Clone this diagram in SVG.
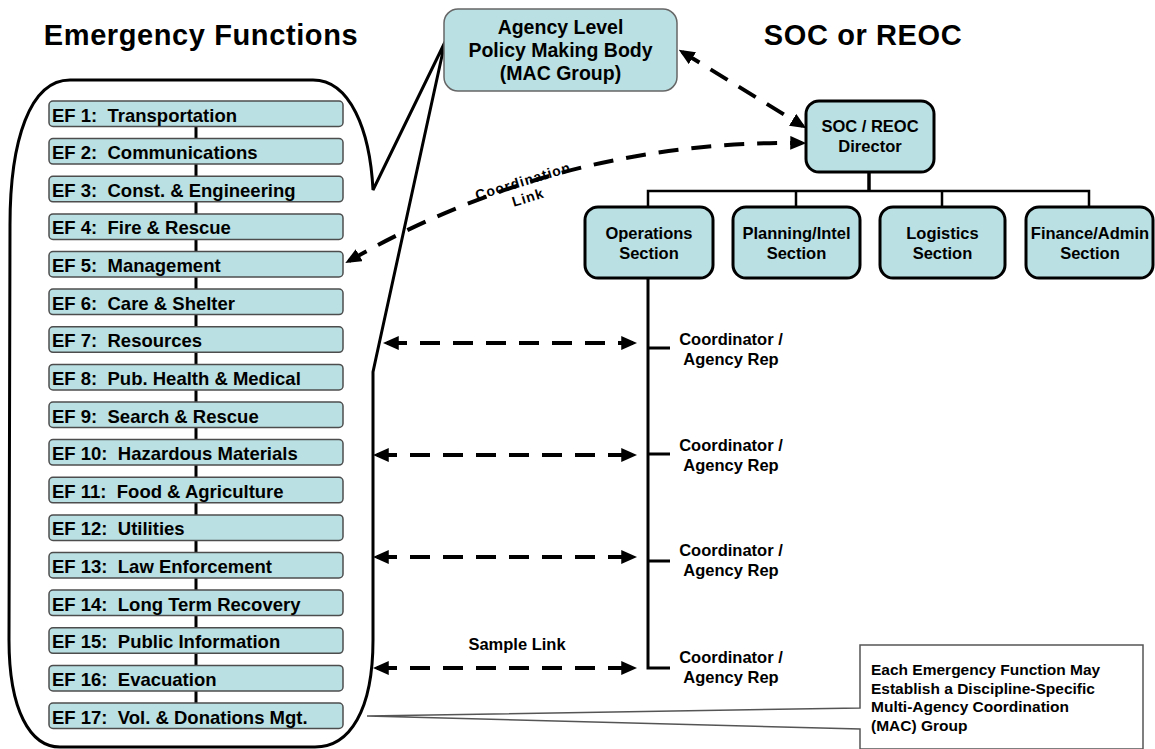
<svg xmlns="http://www.w3.org/2000/svg" width="1155" height="749" viewBox="0 0 1155 749">
<style>
text{font-family:"Liberation Sans",Arial,sans-serif;font-weight:bold;fill:#000}
.title{font-size:29px;letter-spacing:0.6px;text-anchor:middle}
.ef rect{fill:#BAE0E3;stroke:#4d4d4d;stroke-width:1.5}
.ef text{font-size:18.5px}
.sec rect{fill:#BAE0E3;stroke:#000;stroke-width:3}
.sec text{font-size:16.5px;text-anchor:middle}
.coord{font-size:16.5px;text-anchor:middle}
.tree{stroke:#000;fill:none}
.dash{stroke:#000;stroke-width:4;fill:none;stroke-dasharray:20 13}
.thin{stroke:#000;stroke-width:3;fill:none}
</style>
<defs>
<marker id="ah" markerUnits="userSpaceOnUse" markerWidth="16" markerHeight="14" viewBox="0 0 15 13" refX="11" refY="6.5" orient="auto-start-reverse">
<path d="M0,0 L15,6.5 L0,13 Z" fill="#000"/>
</marker>
</defs>

<g id="titles">
<text class="title" x="201" y="45">Emergency Functions</text>
<text class="title" x="863" y="45">SOC or REOC</text>
</g>

<g id="ef-callout">
<path class="thin" d="M10,225 C10,140 30,80 70,80 L313,80 C350,80 370,130 373,190 L445,42 L376,358 L373,372 L373,640 C373,710 350,747 315,747 L60,747 C30,747 9,710 9,640 Z"/>
</g>

<g id="ef-spine">
<line x1="196" y1="126" x2="196" y2="703" stroke="#000" stroke-width="3"/>
</g>

<g id="ef-list" class="ef">
<g id="ef1"><rect x="49" y="101" width="294" height="25.5" rx="4"/><text x="52" y="121.5" xml:space="preserve">EF 1:  Transportation</text></g>
<g id="ef2"><rect x="49" y="138.6" width="294" height="25.5" rx="4"/><text x="52" y="159.1" xml:space="preserve">EF 2:  Communications</text></g>
<g id="ef3"><rect x="49" y="176.3" width="294" height="25.5" rx="4"/><text x="52" y="196.8" xml:space="preserve">EF 3:  Const. &amp; Engineering</text></g>
<g id="ef4"><rect x="49" y="213.9" width="294" height="25.5" rx="4"/><text x="52" y="234.4" xml:space="preserve">EF 4:  Fire &amp; Rescue</text></g>
<g id="ef5"><rect x="49" y="251.5" width="294" height="25.5" rx="4"/><text x="52" y="272" xml:space="preserve">EF 5:  Management</text></g>
<g id="ef6"><rect x="49" y="289.1" width="294" height="25.5" rx="4"/><text x="52" y="309.6" xml:space="preserve">EF 6:  Care &amp; Shelter</text></g>
<g id="ef7"><rect x="49" y="326.8" width="294" height="25.5" rx="4"/><text x="52" y="347.3" xml:space="preserve">EF 7:  Resources</text></g>
<g id="ef8"><rect x="49" y="364.4" width="294" height="25.5" rx="4"/><text x="52" y="384.9" xml:space="preserve">EF 8:  Pub. Health &amp; Medical</text></g>
<g id="ef9"><rect x="49" y="402" width="294" height="25.5" rx="4"/><text x="52" y="422.5" xml:space="preserve">EF 9:  Search &amp; Rescue</text></g>
<g id="ef10"><rect x="49" y="439.6" width="294" height="25.5" rx="4"/><text x="52" y="460.1" xml:space="preserve">EF 10:  Hazardous Materials</text></g>
<g id="ef11"><rect x="49" y="477.3" width="294" height="25.5" rx="4"/><text x="52" y="497.8" xml:space="preserve">EF 11:  Food &amp; Agriculture</text></g>
<g id="ef12"><rect x="49" y="514.9" width="294" height="25.5" rx="4"/><text x="52" y="535.4" xml:space="preserve">EF 12:  Utilities</text></g>
<g id="ef13"><rect x="49" y="552.5" width="294" height="25.5" rx="4"/><text x="52" y="573" xml:space="preserve">EF 13:  Law Enforcement</text></g>
<g id="ef14"><rect x="49" y="590.1" width="294" height="25.5" rx="4"/><text x="52" y="610.6" xml:space="preserve">EF 14:  Long Term Recovery</text></g>
<g id="ef15"><rect x="49" y="627.8" width="294" height="25.5" rx="4"/><text x="52" y="648.3" xml:space="preserve">EF 15:  Public Information</text></g>
<g id="ef16"><rect x="49" y="665.4" width="294" height="25.5" rx="4"/><text x="52" y="685.9" xml:space="preserve">EF 16:  Evacuation</text></g>
<g id="ef17"><rect x="49" y="703" width="294" height="25.5" rx="4"/><text x="52" y="723.5" xml:space="preserve">EF 17:  Vol. &amp; Donations Mgt.</text></g>
</g>

<g id="agency">
<rect x="444" y="9" width="233" height="82" rx="14" fill="#BAE0E3" stroke="#666" stroke-width="1.5"/>
<text x="560.5" y="34" font-size="19.5" text-anchor="middle">Agency Level</text>
<text x="560.5" y="57" font-size="19.5" text-anchor="middle">Policy Making Body</text>
<text x="560.5" y="80" font-size="19.5" text-anchor="middle">(MAC Group)</text>
</g>

<g id="director" class="sec">
<rect x="806" y="101" width="128" height="71" rx="13"/>
<text x="870" y="132">SOC / REOC</text>
<text x="870" y="152">Director</text>
</g>
<g id="operations" class="sec">
<rect x="585" y="207" width="128" height="71" rx="13"/>
<text x="649" y="239">Operations</text>
<text x="649" y="259">Section</text>
</g>
<g id="planning" class="sec">
<rect x="733" y="207" width="127" height="71" rx="13"/>
<text x="796.5" y="239">Planning/Intel</text>
<text x="796.5" y="259">Section</text>
</g>
<g id="logistics" class="sec">
<rect x="880" y="207" width="125" height="71" rx="13"/>
<text x="942.5" y="239">Logistics</text>
<text x="942.5" y="259">Section</text>
</g>
<g id="finance" class="sec">
<rect x="1026" y="207" width="127" height="71" rx="13"/>
<text x="1090" y="239">Finance/Admin</text>
<text x="1090" y="259">Section</text>
</g>

<g id="coordinators">
<text class="coord" x="731" y="345">Coordinator /</text>
<text class="coord" x="731" y="365">Agency Rep</text>
<text class="coord" x="731" y="451">Coordinator /</text>
<text class="coord" x="731" y="471">Agency Rep</text>
<text class="coord" x="731" y="556">Coordinator /</text>
<text class="coord" x="731" y="576">Agency Rep</text>
<text class="coord" x="731" y="663">Coordinator /</text>
<text class="coord" x="731" y="683">Agency Rep</text>
</g>

<g id="mac-note">
<path d="M860,645 L1143,645 L1143,749 L860,749 L860,729 L367,716 L860,708 Z" fill="#fff" stroke="#555" stroke-width="1.5"/>
<text x="871" y="675" font-size="15.5">Each Emergency Function May</text>
<text x="871" y="693.5" font-size="15.5">Establish a Discipline-Specific</text>
<text x="871" y="712" font-size="15.5">Multi-Agency Coordination</text>
<text x="871" y="730.5" font-size="15.5">(MAC) Group</text>
</g>

<g id="connectors">
<path class="tree" stroke-width="3.5" d="M869,172 L869,191"/>
<path class="tree" stroke-width="2.5" d="M648,207 L648,191 L1089,191 L1089,207 M796,191 L796,207 M942,191 L942,207"/>
<path class="tree" stroke-width="3" d="M648,278 L648,668 L670,668 M648,348 L670,348 M648,454 L670,454 M648,561 L670,561"/>
<path class="dash" d="M387,343 L633,343" marker-start="url(#ah)" marker-end="url(#ah)"/>
<path class="dash" d="M377,455 L633,455" marker-start="url(#ah)" marker-end="url(#ah)"/>
<path class="dash" d="M377,557 L633,557" marker-start="url(#ah)" marker-end="url(#ah)"/>
<path class="dash" d="M377,668 L633,668" marker-start="url(#ah)" marker-end="url(#ah)"/>
<path class="dash" d="M682.4,52.1 L802.6,125.9" marker-start="url(#ah)" marker-end="url(#ah)"/>
<path class="dash" d="M349,261 Q560,140 802,143" marker-start="url(#ah)" marker-end="url(#ah)"/>
<text x="517" y="650" font-size="16.5" text-anchor="middle">Sample Link</text>
<text transform="translate(523,181) rotate(-17)" font-size="14" letter-spacing="1" text-anchor="middle"><tspan x="0" y="5">Coordination</tspan><tspan x="0" y="22">Link</tspan></text>
</g>
</svg>
